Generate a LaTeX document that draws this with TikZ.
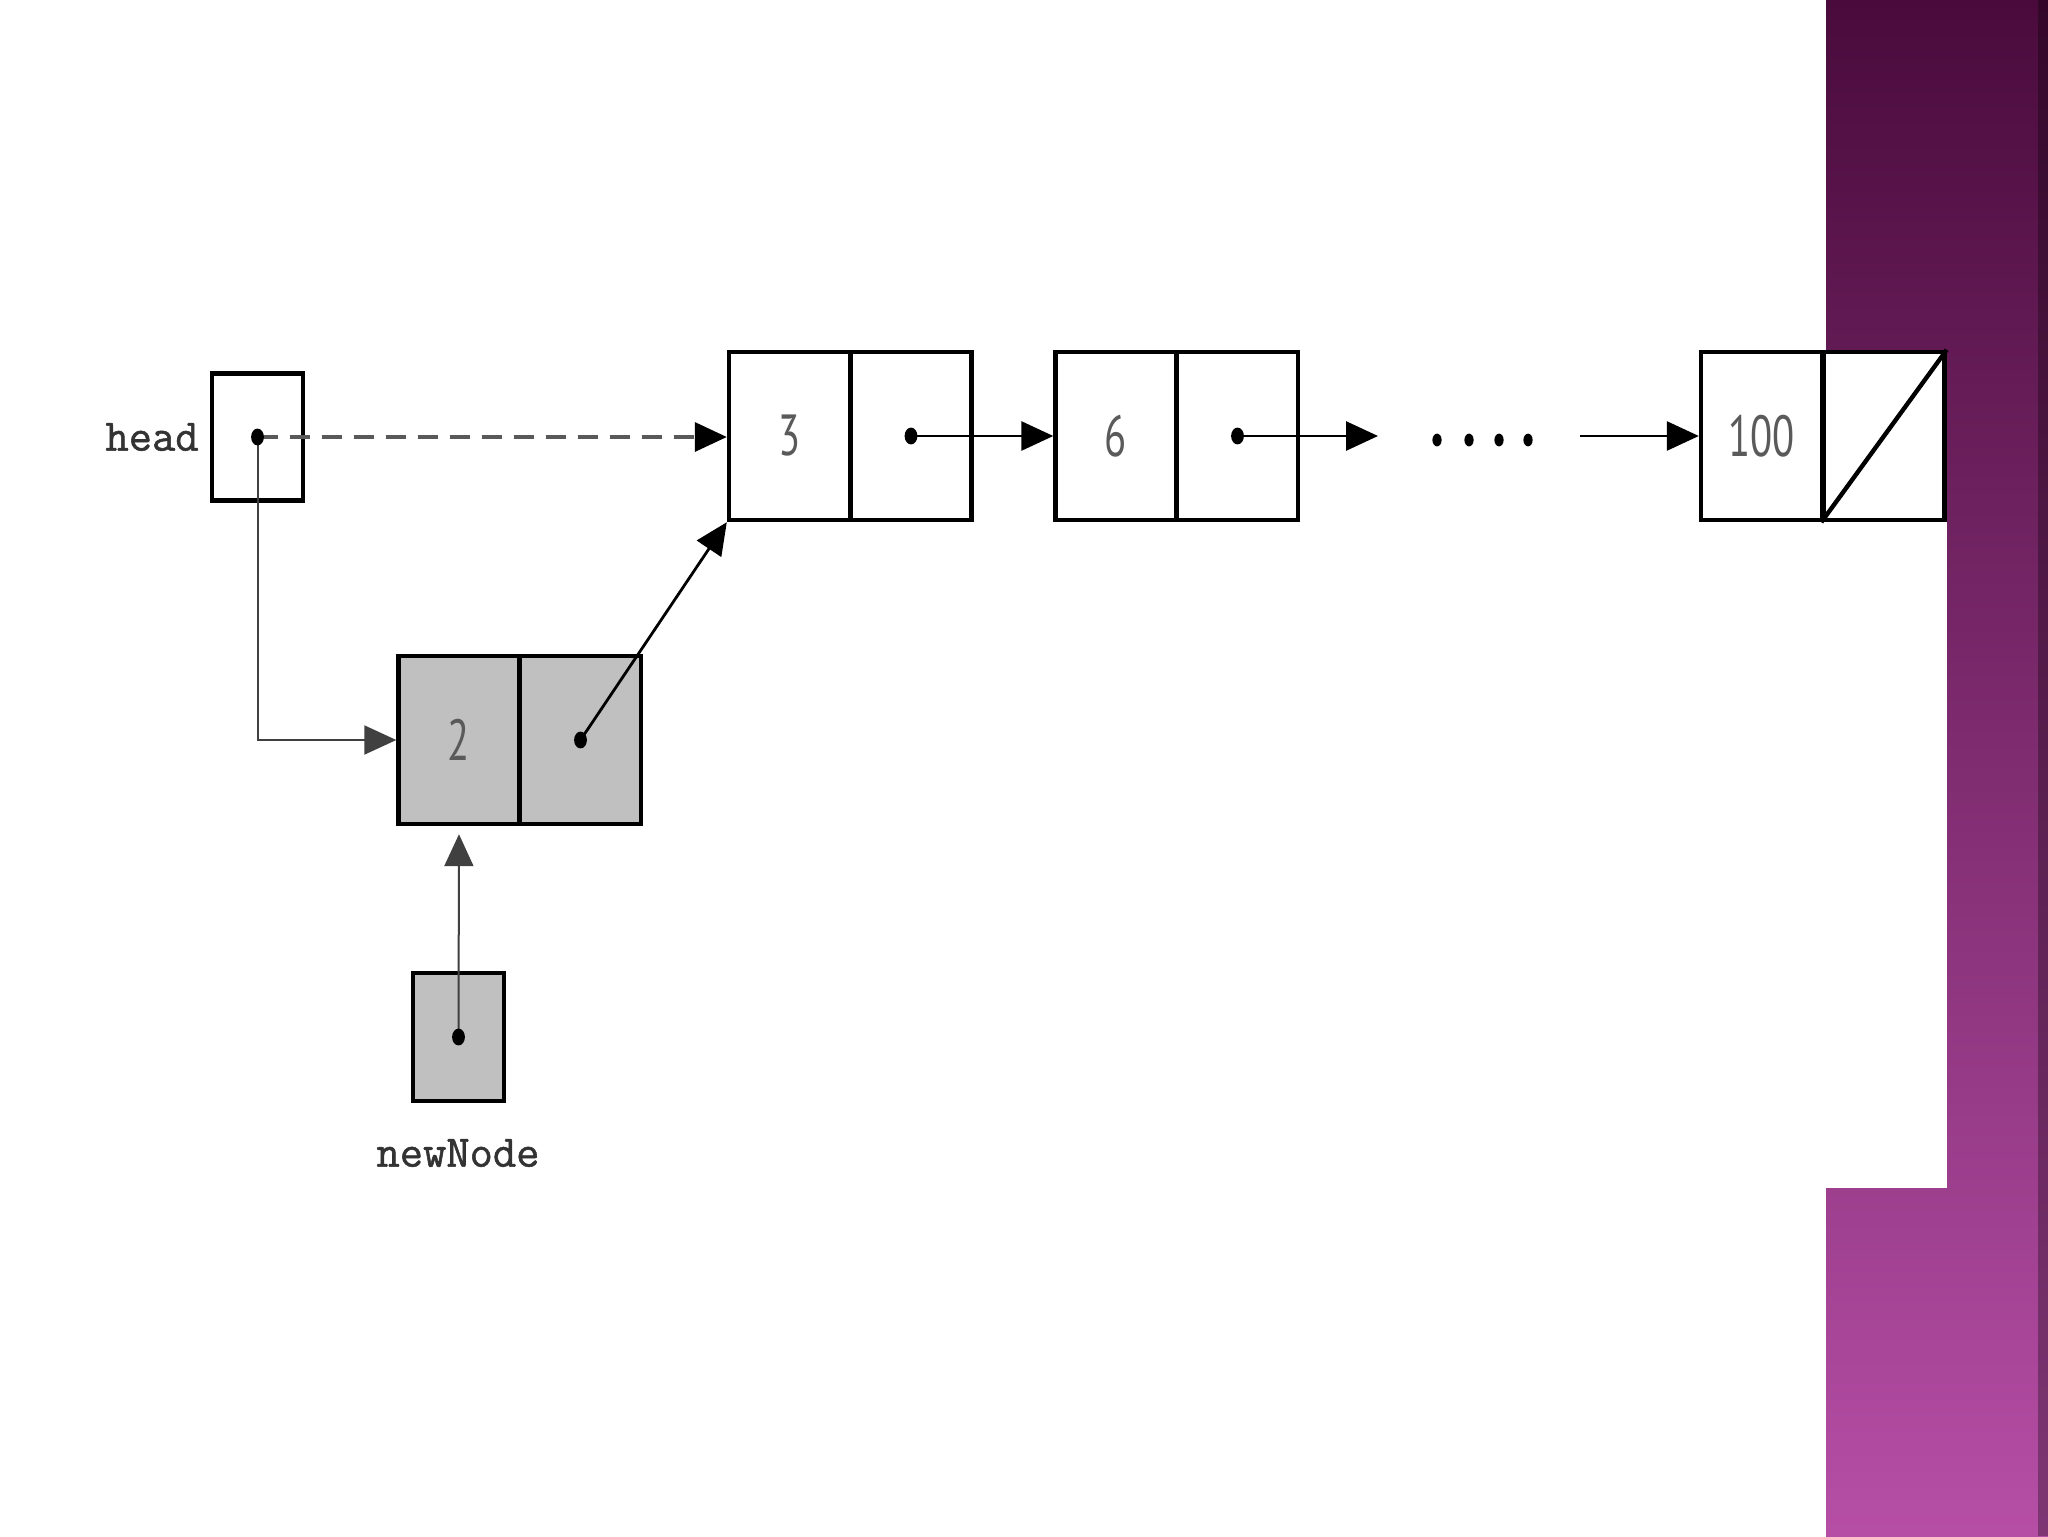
\documentclass[tikz,border=0pt]{standalone}
\usepackage{fontspec}
\usetikzlibrary{arrows.meta,shapes.geometric}
\newfontfamily\numfont[FakeStretch=0.7]{PT Sans}
\newfontfamily\lblfont[FakeBold=1.2]{Latin Modern Mono}
\definecolor{bandtop}{HTML}{4A0B3C}
\definecolor{bandmid}{HTML}{8A3078}
\definecolor{bandbot}{HTML}{B64EA6}
\definecolor{cellgray}{HTML}{C0C0C0}
\definecolor{digitgray}{HTML}{5A5A5A}
\tikzset{
  cell/.style={draw=black, line width=2.2pt, minimum width=60.5pt, minimum height=84pt, inner sep=0pt, font=\numfont\fontsize{29}{29}\selectfont, text=digitgray},
  graycell/.style={cell, fill=cellgray},
  ptrbox/.style={draw=black, line width=2.2pt, minimum width=45.5pt, minimum height=63.5pt, inner sep=0pt},
  lbl/.style={font=\lblfont\fontsize{22.6}{24}\selectfont, text=black!80, inner sep=0pt},
  arr/.style={line width=1.4pt, -{Triangle[length=16pt,width=14.5pt]}},
  dasharr/.style={line width=1.7pt, draw=black!65, dash pattern=on 10pt off 6pt, -{Triangle[length=16pt,width=14.5pt,color=black]}},
  ptrdot/.style={fill=black},
  x=0.5pt, y=-0.5pt
}
\begin{document}
\begin{tikzpicture}
\useasboundingbox (0,0) rectangle (2048,1536);
% background
\fill[white] (0,0) rectangle (2048,1536);
\shade[top color=bandtop, middle color=bandmid, bottom color=bandbot] (1826,0) rectangle (2048,1536);
\fill[black, opacity=0.3] (2038,0) rectangle (2048,1536);
\fill[white] (1826,350) rectangle (1947,1188);

% pointer variables
\node[ptrbox] (head) at (257.5,437) {};
\node[lbl, anchor=east] (headlbl) at (199,437) {head};
\node[ptrbox, fill=cellgray, minimum height=64pt] (newnode) at (458.5,1037) {};
\node[lbl] (newlbl) at (458,1153) {newNode};

% list nodes
\node[cell] (n3v) at (789.5,436) {3};
\node[cell] (n3p) at (911,436) {};
\node[cell] (n6v) at (1116,436) {6};
\node[cell] (n6p) at (1237.5,436) {};
\node[cell] (n100v) at (1761.5,436) {100};
\node[cell] (n100p) at (1884,436) {};
\draw[line width=2.2pt] (n100p.south west) -- (n100p.north east);

% new node
\node[graycell] (n2v) at (459,740) {2};
\node[graycell] (n2p) at (580.5,740) {};

% connectors
\draw[dasharr] (head.center) -- (head.center -| n3v.west);
\draw[arr, line width=1pt, draw=black!75] (head.center) |- (n2v.west);
\draw[arr] (n3p.center) -- (n6v.west);
\coordinate (n6out) at (1378,436);
\draw[arr] (n6p.center) -- (n6out);
\coordinate (dotsout) at (1580,436);
\draw[arr] (dotsout) -- (n100v.west);
\draw[arr] (n2p.center) -- (n3v.south west);
\draw[arr, line width=1pt, draw=black!75, shorten >=4pt] (newnode.center) -- (n2v.south);

% pointer dots
\foreach \p in {head, n3p, n6p, n2p, newnode}
  \fill[ptrdot] (\p.center) ellipse [x radius=3.2pt, y radius=4.2pt];

% ellipsis dots
\foreach \x in {1437,1469,1499,1528}
  \fill (\x,440) ellipse [x radius=2.3pt, y radius=3.2pt];
\end{tikzpicture}
\end{document}
